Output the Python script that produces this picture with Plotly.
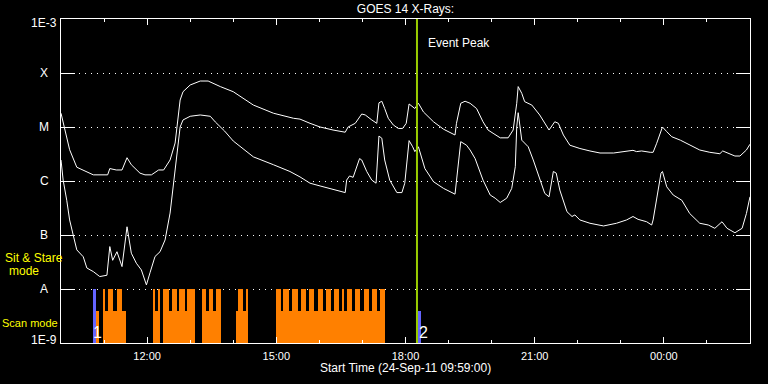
import math
import plotly.graph_objects as go
import pandas as pd

# ---------------- data ----------------
upper_time = ["10:00","10:08","10:12","10:22","10:31","10:45","11:05","11:08","11:17","11:25","11:32","11:38","11:50","11:57",
              "12:06","12:16","12:23","12:32","12:39","12:43","12:46","12:50","13:00","13:14","13:25","13:42","14:00","14:28","14:56",
              "15:24","15:33","15:47","16:01","16:19","16:36","16:40","16:50","16:59","17:04","17:13","17:20","17:23","17:27","17:31",
              "17:36","17:43","17:50","17:56","18:01","18:05","18:09","18:13","18:18","18:25","18:39","18:53","19:09","19:11","19:17",
              "19:23","19:30","19:39","19:48","19:55","20:02","20:12","20:23","20:30","20:35","20:37","20:42","20:46","20:56","21:07",
              "21:20","21:28","21:33","21:40","21:49","22:03","22:17","22:31","22:50","23:08","23:17","23:22","23:29","23:41","23:45",
              "23:50","23:58","00:04","00:11","00:23","00:36","00:50","01:04","01:18","01:22","01:28","01:39","01:46","01:55","02:00"]
upper_flux = [1.8e-5,6.4e-6,3.8e-6,1.8e-6,1.6e-6,1.3e-6,1.3e-6,1.7e-6,1.6e-6,1.6e-6,2.7e-6,2.0e-6,1.4e-6,1.3e-6,
              1.3e-6,1.6e-6,1.6e-6,2.45e-6,5.05e-6,1.35e-5,3.16e-5,4.5e-5,6.0e-5,7.1e-5,7.1e-5,5.6e-5,4.5e-5,2.55e-5,1.8e-5,
              1.45e-5,1.4e-5,1.17e-5,1.0e-5,8.8e-6,8.0e-6,1.0e-5,1.17e-5,1.74e-5,1.67e-5,1.35e-5,1.17e-5,2.8e-5,3.0e-5,2.2e-5,
              1.45e-5,1.09e-5,9.4e-6,9.4e-6,1.17e-5,2.67e-5,2.37e-5,2.2e-5,2.75e-5,1.9e-5,1.25e-5,9.1e-6,7.1e-6,1.17e-5,2.75e-5,
              3.0e-5,2.75e-5,2.2e-5,1.25e-5,8.8e-6,7.65e-6,6.3e-6,6.3e-6,8.8e-6,2.75e-5,5.6e-5,4.2e-5,2.95e-5,2.55e-5,1.67e-5,
              8.8e-6,1.25e-5,1.17e-5,7.1e-6,4.6e-6,4.0e-6,3.6e-6,3.3e-6,3.3e-6,3.6e-6,3.7e-6,3.5e-6,3.6e-6,3.4e-6,3.4e-6,
              5.0e-6,1.0e-5,8.2e-6,6.6e-6,5.7e-6,4.6e-6,3.75e-6,3.4e-6,3.2e-6,3.6e-6,3.3e-6,2.9e-6,2.9e-6,3.75e-6,4.8e-6]

lower_time = ["10:00","10:03","10:08","10:12","10:17","10:22","10:31","10:36","10:45","10:54","11:04","11:08","11:12","11:18",
              "11:25","11:32","11:38","11:45","11:52","11:59","12:04","12:11","12:18","12:25","12:32","12:36","12:41","12:46",
              "12:50","13:00","13:14","13:28","13:35","13:48","14:00","14:28","14:56","15:19","15:33","15:47","16:01","16:19",
              "16:36","16:38","16:42","16:47","16:56","16:59","17:06","17:13","17:19","17:23","17:27","17:31","17:38","17:48",
              "17:55","17:59","18:05","18:10","18:13","18:18","18:27","18:39","18:53","19:09","19:11","19:17","19:25","19:30",
              "19:37","19:48","19:58","20:05","20:12","20:21","20:28","20:33","20:35","20:37","20:42","20:51","20:58","21:07",
              "21:14","21:20","21:26","21:30","21:35","21:45","21:52","21:56","22:03","22:17","22:36","22:54","23:08","23:17",
              "23:24","23:36","23:43","23:45","23:50","23:56","23:58","00:04","00:13","00:25","00:36","00:50","01:02","01:11",
              "01:21","01:28","01:39","01:49","01:55","02:00"]
lower_flux = [2.45e-6,1.04e-6,4.4e-7,1.9e-7,1.0e-7,5.3e-8,3.95e-8,2.45e-8,2.1e-8,1.7e-8,1.8e-8,6.1e-8,3.4e-8,4.9e-8,
              2.6e-8,1.42e-7,4.6e-8,3.0e-8,2.25e-8,1.19e-8,2.0e-8,4.0e-8,4.9e-8,8.1e-8,2.55e-7,6.8e-7,2.45e-6,1.0e-5,
              1.35e-5,1.58e-5,1.67e-5,1.58e-5,1.24e-5,8.4e-6,5.5e-6,2.8e-6,2.0e-6,1.5e-6,1.19e-6,9.1e-7,8.1e-7,7.0e-7,
              6.1e-7,1.04e-6,1.24e-6,1.17e-6,2.6e-6,2.45e-6,1.5e-6,1.04e-6,9.1e-7,6.8e-6,6.2e-6,2.45e-6,1.04e-6,6.1e-7,
              6.1e-7,9.1e-7,5.6e-6,4.3e-6,3.5e-6,4.3e-6,1.7e-6,9.7e-7,7.3e-7,5.7e-7,1.04e-6,5.35e-6,4.6e-6,3.75e-6,
              2.6e-6,1.04e-6,5.5e-7,4.8e-7,4.0e-7,4.8e-7,7.3e-7,1.84e-6,1.0e-5,1.84e-5,5.7e-6,4.3e-6,2.45e-6,1.04e-6,
              5.9e-7,5.1e-7,1.5e-6,1.4e-6,6.8e-7,2.7e-7,2.2e-7,2.35e-7,1.9e-7,1.65e-7,1.47e-7,1.65e-7,1.9e-7,2.2e-7,
              1.95e-7,1.76e-7,1.53e-7,1.9e-7,4.4e-7,1.4e-6,1.5e-6,7.8e-7,5.5e-7,4.4e-7,2.5e-7,1.65e-7,1.53e-7,1.33e-7,
              1.76e-7,1.33e-7,1.1e-7,1.33e-7,2.5e-7,5.1e-7]

# observing mode intervals (height 1.0 = tall bar, 0.6 = short bar)
mode_start = ["10:49:00","10:58:00","11:01:00","11:05:00","11:13:00","11:18:00","11:25:00",
              "12:08:00","12:11:00","12:16:00","12:22:00","12:30:00","12:34:00","12:41:00","12:44:00","12:53:00","12:56:00",
              "13:16:00","13:22:00","13:26:00","13:32:00","13:36:00",
              "14:04:00","14:07:00","14:13:00","14:18:00",
              "15:00:00","15:06:30","15:10:00","15:18:00","15:22:00","15:30:00","15:34:00","15:41:00","15:46:00","15:53:00",
              "15:58:00","16:05:00","16:09:00","16:16:00","16:20:00","16:27:00","16:31:00","16:34:00","16:38:30","16:45:00",
              "16:50:00","16:57:00","17:02:00","17:09:00","17:13:00","17:20:00","17:24:30"]
mode_end = ["10:53:00","11:01:00","11:05:00","11:13:00","11:18:00","11:25:00","11:31:00",
            "12:11:00","12:16:00","12:18:00","12:30:00","12:34:00","12:41:00","12:44:00","12:53:00","12:56:00","13:07:00",
            "13:22:00","13:26:00","13:32:00","13:36:00","13:43:00",
            "14:07:00","14:13:00","14:18:00","14:20:00",
            "15:06:30","15:10:00","15:18:00","15:22:00","15:30:00","15:34:00","15:41:00","15:46:00","15:53:00","15:58:00",
            "16:05:00","16:09:00","16:16:00","16:20:00","16:27:00","16:31:00","16:34:00","16:38:30","16:45:00","16:50:00",
            "16:57:00","17:02:00","17:09:00","17:13:00","17:20:00","17:24:30","17:31:30"]
mode_height = [0.6,1.0,0.6,1.0,0.6,1.0,0.6,
               1.0,0.6,1.0,1.0,0.6,1.0,0.6,1.0,0.6,1.0,
               1.0,0.6,1.0,0.6,1.0,
               0.6,1.0,0.6,1.0,
               1.0,0.6,1.0,0.6,1.0,0.6,1.0,0.6,1.0,0.6,
               1.0,0.6,1.0,0.6,1.0,0.6,1.0,0.6,1.0,0.6,
               1.0,0.6,1.0,0.6,1.0,0.6,1.0]

point_start = ["10:44:00", "18:18:00"]
point_end = ["10:49:00", "18:22:00"]
point_height = [1.0, 0.6]
point_label = ["1", "2"]

event_peak = "18:16:00"

y_tick_vals = [1e-9, 1e-8, 1e-7, 1e-6, 1e-5, 1e-4, 1e-3]
y_tick_text = ["1E-9", "A", "B", "C", "M", "X", "1E-3"]

# ---------------- helpers ----------------
def to_dt(s):
    h = int(s.split(":")[0])
    day = "2011-09-25" if h < 9 else "2011-09-24"
    return pd.Timestamp(f"{day} {s}")

def fmt(ts):
    return ts.strftime("%Y-%m-%d %H:%M:%S")

def bar_geom(starts, ends):
    s = [to_dt(v) for v in starts]
    e = [to_dt(v) for v in ends]
    mids = [fmt(a + (b - a) / 2) for a, b in zip(s, e)]
    widths = [(b - a).total_seconds() * 1000 for a, b in zip(s, e)]
    return mids, widths

FONT = "Liberation Sans"
WHITE = "#ffffff"
YELLOW = "#ffff00"

fig = go.Figure()

fig.add_trace(go.Scatter(x=[fmt(to_dt(t)) for t in upper_time], y=upper_flux, mode="lines",
                         line=dict(color=WHITE, width=1), showlegend=False, hoverinfo="skip"))
fig.add_trace(go.Scatter(x=[fmt(to_dt(t)) for t in lower_time], y=lower_flux, mode="lines",
                         line=dict(color=WHITE, width=1), showlegend=False, hoverinfo="skip"))

mx, mw = bar_geom(mode_start, mode_end)
fig.add_trace(go.Bar(x=mx, y=mode_height, width=mw, base=0, yaxis="y2",
                     marker=dict(color="#ff8000", line=dict(width=0)), showlegend=False, hoverinfo="skip"))
px_, pw = bar_geom(point_start, point_end)
fig.add_trace(go.Bar(x=px_, y=point_height, width=pw, base=0, yaxis="y2",
                     marker=dict(color="#6464ff", line=dict(width=0)), showlegend=False, hoverinfo="skip"))

ev = fmt(to_dt(event_peak))
fig.add_shape(type="line", x0=ev, x1=ev, xref="x", y0=0, y1=1, yref="paper",
              line=dict(color="#99cc00", width=2), layer="above")

annotations = []
for v, t in zip(y_tick_vals, y_tick_text):
    shift = 0
    if t == "1E-3":
        shift = -4
    if t == "1E-9":
        shift = 3
    annotations.append(dict(x=0, xref="paper", xshift=-17, xanchor="center", y=math.log10(v), yref="y",
                            yshift=shift, yanchor="middle", text=t, showarrow=False,
                            font=dict(family=FONT, size=12, color=WHITE)))

for s, lab in zip(point_start, point_label):
    annotations.append(dict(x=fmt(to_dt(s)), xref="x", xshift=5, xanchor="center", y=0.031, yref="paper",
                            yanchor="middle", text=lab, showarrow=False,
                            font=dict(family=FONT, size=16, color=WHITE)))

annotations.append(dict(x=ev, xref="x", xshift=9, xanchor="left", y=0.926, yref="paper", yanchor="middle",
                        text="Event Peak", showarrow=False, font=dict(family=FONT, size=12, color=WHITE)))
annotations.append(dict(x=0, xref="paper", xshift=-27, xanchor="center", y=0.262, yref="paper", yanchor="middle",
                        text="Sit & Stare", showarrow=False, font=dict(family=FONT, size=12, color=YELLOW)))
annotations.append(dict(x=0, xref="paper", xshift=-37, xanchor="center", y=0.222, yref="paper", yanchor="middle",
                        text="mode", showarrow=False, font=dict(family=FONT, size=12, color=YELLOW)))
annotations.append(dict(x=0, xref="paper", xshift=-31, xanchor="center", y=0.062, yref="paper", yanchor="middle",
                        text="Scan mode", showarrow=False, font=dict(family=FONT, size=11, color=YELLOW)))
annotations.append(dict(x=0.5, xref="paper", xanchor="center", y=-0.077, yref="paper", yanchor="middle",
                        text="Start Time (24-Sep-11 09:59:00)", showarrow=False,
                        font=dict(family=FONT, size=12, color=WHITE)))

fig.update_layout(
    width=768, height=384,
    paper_bgcolor="black", plot_bgcolor="black",
    margin=dict(l=61, r=18, t=19, b=41),
    barmode="overlay", bargap=0,
    title=dict(text="GOES 14 X-Rays:", x=0.5, xref="paper", xanchor="center", y=1 - 9 / 384, yanchor="middle",
               font=dict(family=FONT, size=12, color=WHITE)),
    xaxis=dict(type="date", range=["2011-09-24 10:00:00", "2011-09-25 02:00:00"],
               tickformat="%H:%M", tick0="2011-09-24 00:00:00", dtick=3 * 3600000,
               ticks="inside", ticklen=6, tickcolor=WHITE, tickwidth=1,
               showline=True, linecolor=WHITE, linewidth=1, mirror="ticks",
               showgrid=False, zeroline=False, ticklabelstandoff=3,
               tickfont=dict(family=FONT, size=11, color=WHITE),
               minor=dict(dtick=3600000, tick0="2011-09-24 00:00:00", ticks="inside", ticklen=3,
                          tickcolor=WHITE, showgrid=False)),
    yaxis=dict(type="log", range=[-9, -3], tickvals=y_tick_vals, showticklabels=False,
               ticks="inside", ticklen=14, tickcolor=WHITE, tickwidth=1,
               showline=True, linecolor=WHITE, linewidth=1, mirror="ticks",
               showgrid=True, gridcolor=WHITE, gridwidth=1, griddash="1px,5px", zeroline=False),
    yaxis2=dict(overlaying="y", range=[0, 6], visible=False, fixedrange=True),
    annotations=annotations,
    showlegend=False,
)

fig.write_html("out.html", config={"displayModeBar": False},
               post_script="document.body.style.margin='0px';document.body.style.padding='0px';document.body.style.background='black';")
